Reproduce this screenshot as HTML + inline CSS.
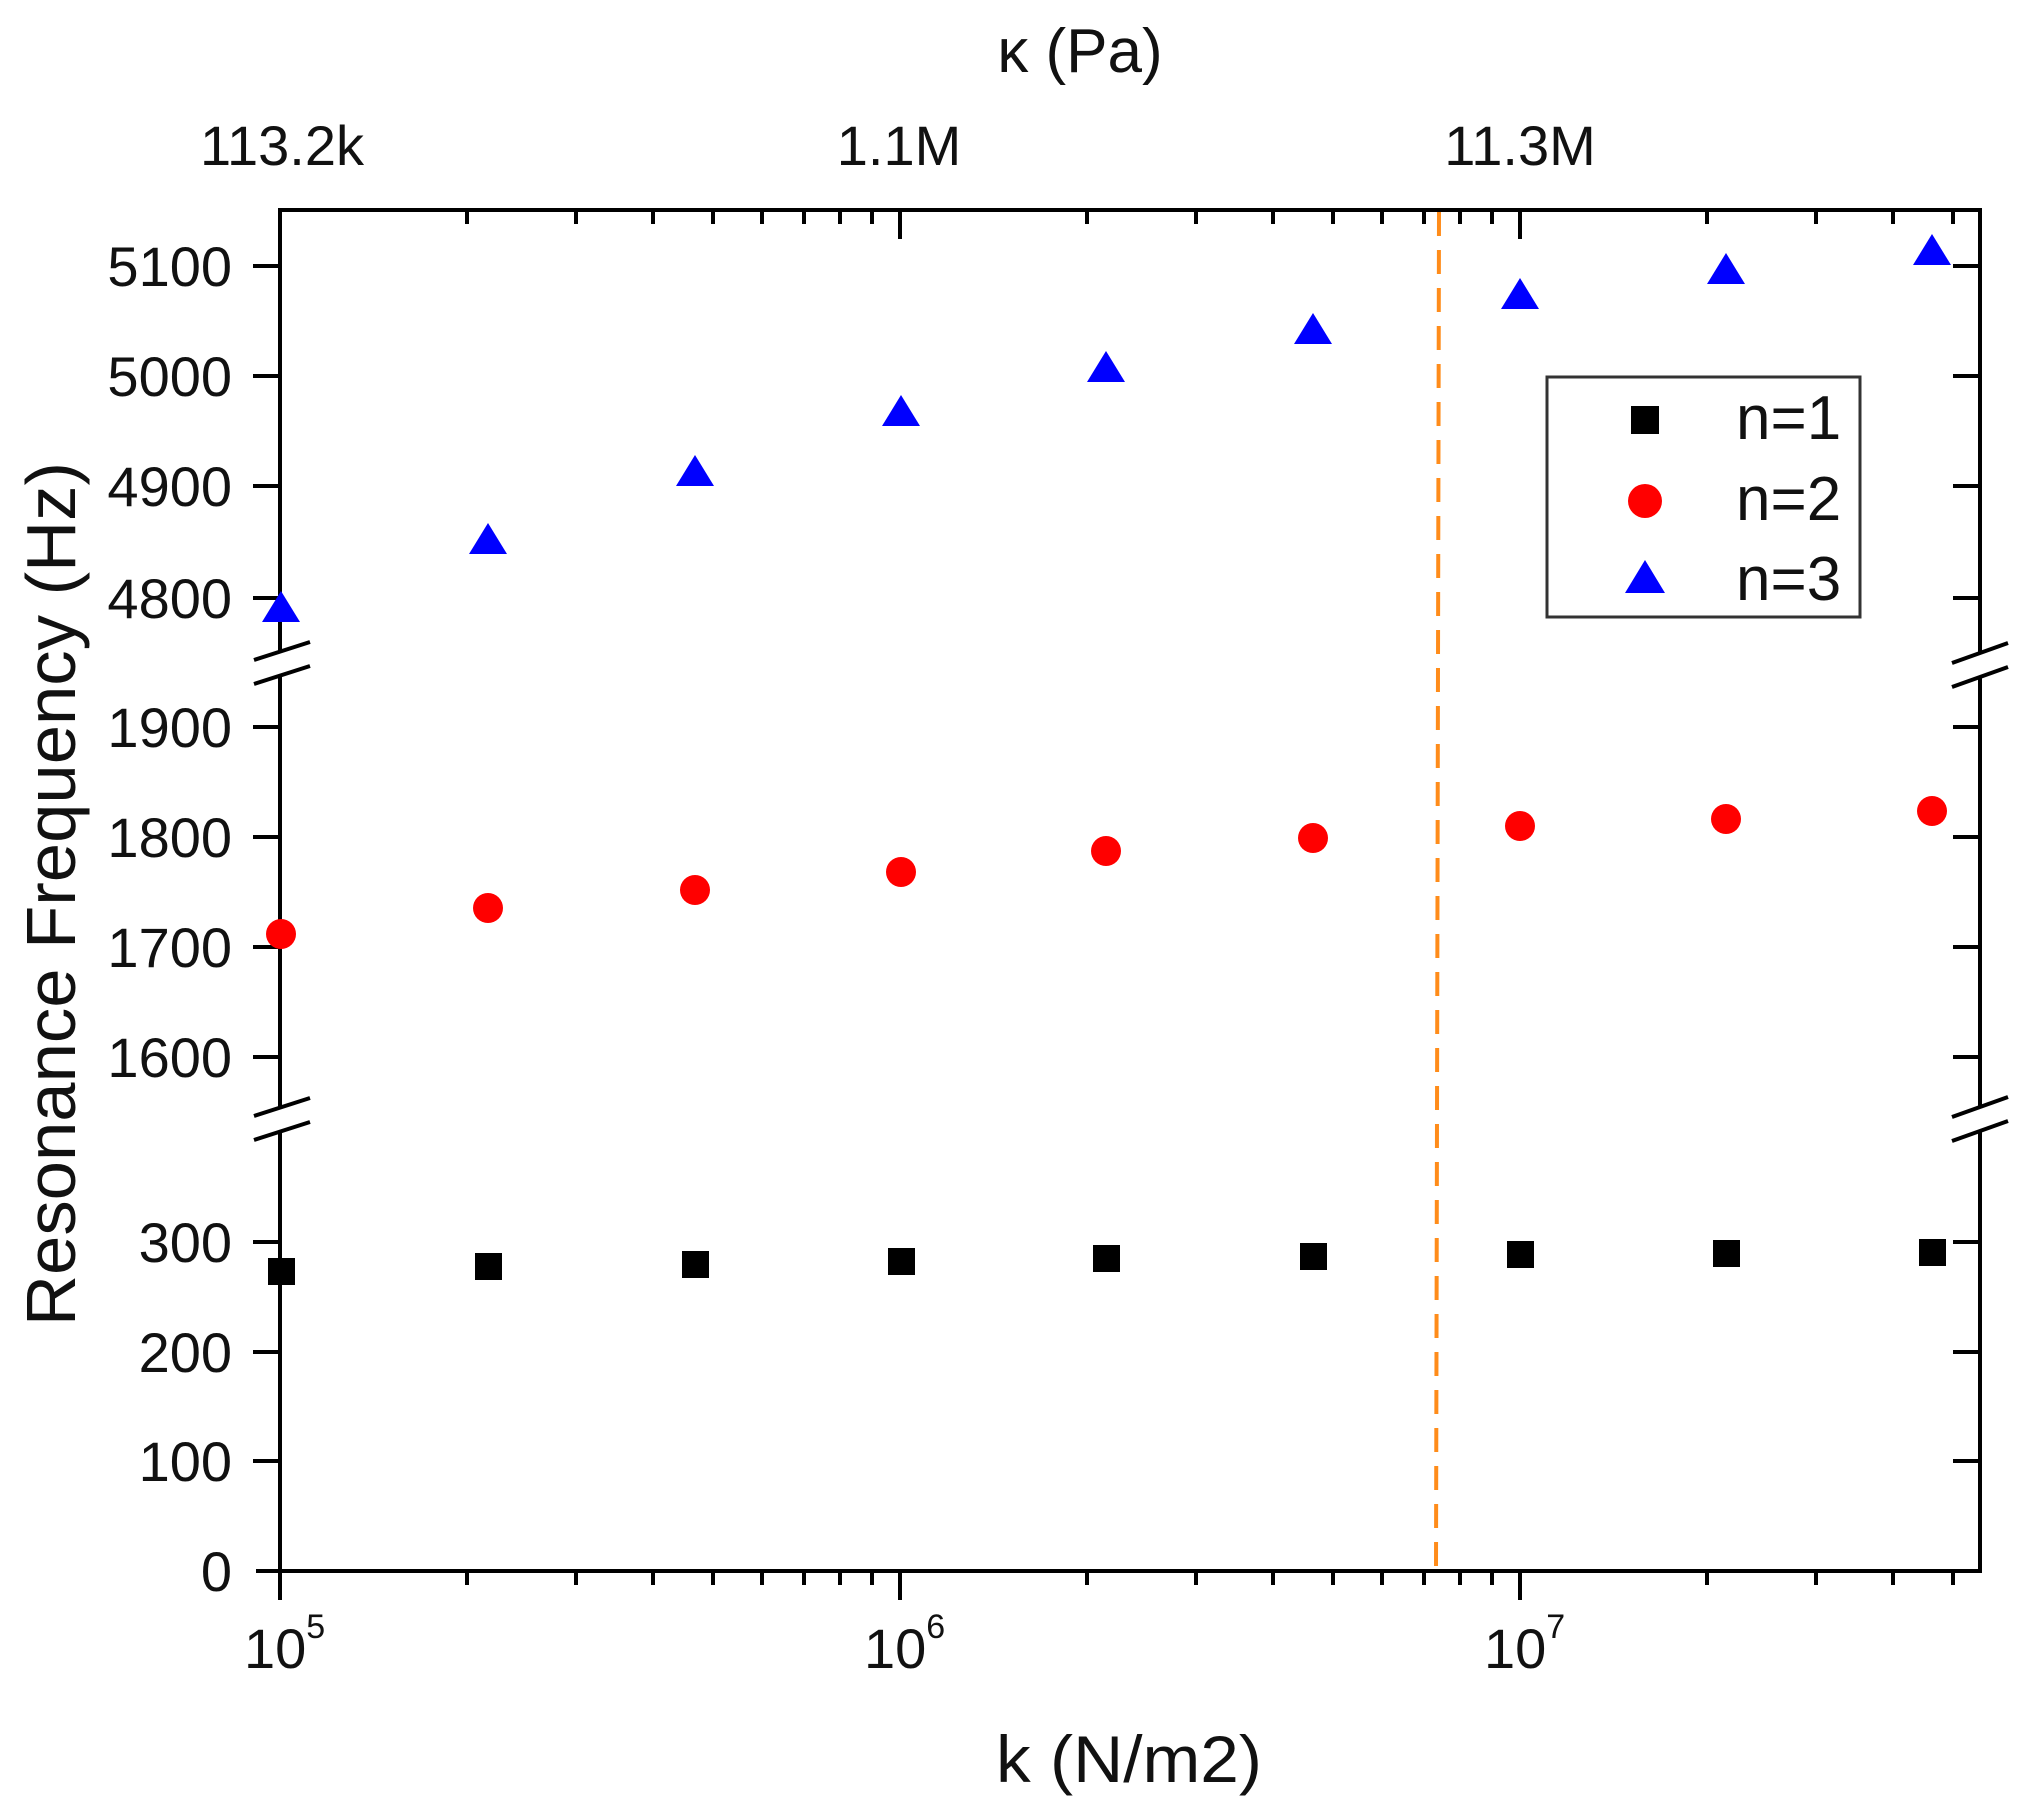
<!DOCTYPE html>
<html><head><meta charset="utf-8"><style>
html,body{margin:0;padding:0;background:#fff}
svg{display:block}
text{font-family:"Liberation Sans",Arial,sans-serif;fill:#111}
</style></head><body>
<svg width="2030" height="1819" viewBox="0 0 2030 1819" xmlns="http://www.w3.org/2000/svg">
<rect width="2030" height="1819" fill="#fff"/>
<g stroke="#000" stroke-width="4" fill="none">
  <line x1="278" y1="210" x2="1981" y2="210"/>
  <line x1="256" y1="1571" x2="1981" y2="1571"/>
  <line x1="280" y1="208" x2="280" y2="652"/>
  <line x1="280" y1="676" x2="280" y2="1108"/>
  <line x1="280" y1="1132" x2="280" y2="1573"/>
  <line x1="1980" y1="208" x2="1980" y2="654"/>
  <line x1="1980" y1="678" x2="1980" y2="1107"/>
  <line x1="1980" y1="1131" x2="1980" y2="1573"/>
  <line x1="254" y1="660" x2="310" y2="642"/>
  <line x1="254" y1="684" x2="310" y2="666"/>
  <line x1="254" y1="1116" x2="310" y2="1098"/>
  <line x1="254" y1="1140" x2="310" y2="1122"/>
  <line x1="1952" y1="663" x2="2008" y2="643"/>
  <line x1="1952" y1="687" x2="2008" y2="667"/>
  <line x1="1952" y1="1117" x2="2008" y2="1097"/>
  <line x1="1952" y1="1141" x2="2008" y2="1121"/>
  <path d="M253 266H280M253 376H280M253 486H280M253 598H280M253 727H280M253 837H280M253 947H280M253 1057H280M253 1242H280M253 1352H280M253 1461H280"/>
  <path d="M1953 266H1980M1953 376H1980M1953 486H1980M1953 598H1980M1953 727H1980M1953 837H1980M1953 947H1980M1953 1057H1980M1953 1242H1980M1953 1352H1980M1953 1461H1980"/>
  <path d="M280 1571V1600M900 1571V1600M1520 1571V1600"/>
  <path d="M280 210V239M900 210V239M1520 210V239"/>
  <path d="M467 1571V1585M576 1571V1585M653 1571V1585M713 1571V1585M762 1571V1585M804 1571V1585M840 1571V1585M872 1571V1585M1087 1571V1585M1196 1571V1585M1273 1571V1585M1333 1571V1585M1382 1571V1585M1424 1571V1585M1460 1571V1585M1492 1571V1585M1707 1571V1585M1816 1571V1585M1893 1571V1585M1953 1571V1585"/>
  <path d="M467 210V224M576 210V224M653 210V224M713 210V224M762 210V224M804 210V224M840 210V224M872 210V224M1087 210V224M1196 210V224M1273 210V224M1333 210V224M1382 210V224M1424 210V224M1460 210V224M1492 210V224M1707 210V224M1816 210V224M1893 210V224M1953 210V224"/>
</g>
<line x1="1439" y1="212" x2="1436" y2="1569" stroke="#ff8c1a" stroke-width="4" stroke-dasharray="24,14"/>
<g fill="#0000ff">
<polygon points="281,591 300,622 262,622"/>
<polygon points="488,523 507,554 469,554"/>
<polygon points="695,455 714,486 676,486"/>
<polygon points="901,395 920,426 882,426"/>
<polygon points="1106,351 1125,382 1087,382"/>
<polygon points="1313,313 1332,344 1294,344"/>
<polygon points="1520,278 1539,309 1501,309"/>
<polygon points="1726,253 1745,284 1707,284"/>
<polygon points="1932,234 1951,265 1913,265"/>
</g>
<g fill="#ff0000">
<circle cx="281" cy="934" r="15"/><circle cx="488" cy="908" r="15"/><circle cx="695" cy="890" r="15"/>
<circle cx="901" cy="872" r="15"/><circle cx="1106" cy="851" r="15"/><circle cx="1313" cy="838" r="15"/>
<circle cx="1520" cy="826" r="15"/><circle cx="1726" cy="819" r="15"/><circle cx="1932" cy="811" r="15"/>
</g>
<g fill="#000">
<rect x="268" y="1258" width="27" height="27"/><rect x="475" y="1253" width="27" height="27"/>
<rect x="682" y="1251" width="27" height="27"/><rect x="888" y="1248" width="27" height="27"/>
<rect x="1093" y="1245" width="27" height="27"/><rect x="1300" y="1243" width="27" height="27"/>
<rect x="1507" y="1241" width="27" height="27"/><rect x="1713" y="1240" width="27" height="27"/>
<rect x="1919" y="1239" width="27" height="27"/>
</g>
<rect x="1547" y="377" width="313" height="240" fill="#fff" stroke="#333" stroke-width="3"/>
<rect x="1631" y="406" width="28" height="28" fill="#000"/>
<circle cx="1645" cy="501" r="17" fill="#ff0000"/>
<polygon points="1645,560 1665,593 1625,593" fill="#0000ff"/>
<g font-size="62">
<text x="1736" y="439">n=1</text>
<text x="1736" y="520">n=2</text>
<text x="1736" y="600">n=3</text>
</g>
<g font-size="56" text-anchor="end">
<text x="232" y="286">5100</text><text x="232" y="396">5000</text><text x="232" y="506">4900</text><text x="232" y="618">4800</text>
<text x="232" y="747">1900</text><text x="232" y="857">1800</text><text x="232" y="967">1700</text><text x="232" y="1077">1600</text>
<text x="232" y="1262">300</text><text x="232" y="1372">200</text><text x="232" y="1481">100</text><text x="232" y="1591">0</text>
</g>
<g font-size="56">
<text x="244" y="1668">10<tspan font-size="34" dy="-30">5</tspan></text>
<text x="864" y="1668">10<tspan font-size="34" dy="-30">6</tspan></text>
<text x="1484" y="1668">10<tspan font-size="34" dy="-30">7</tspan></text>
</g>
<g font-size="56" text-anchor="middle">
<text x="282" y="165">113.2k</text>
<text x="899" y="165">1.1M</text>
<text x="1520" y="165">11.3M</text>
</g>
<text x="1080" y="72" font-size="62" text-anchor="middle">κ (Pa)</text>
<text x="996" y="1782" font-size="66" textLength="266" lengthAdjust="spacingAndGlyphs">k (N/m2)</text>
<text transform="translate(75,894) rotate(-90)" font-size="70" text-anchor="middle" textLength="864" lengthAdjust="spacingAndGlyphs">Resonance Frequency (Hz)</text>
</svg>
</body></html>
